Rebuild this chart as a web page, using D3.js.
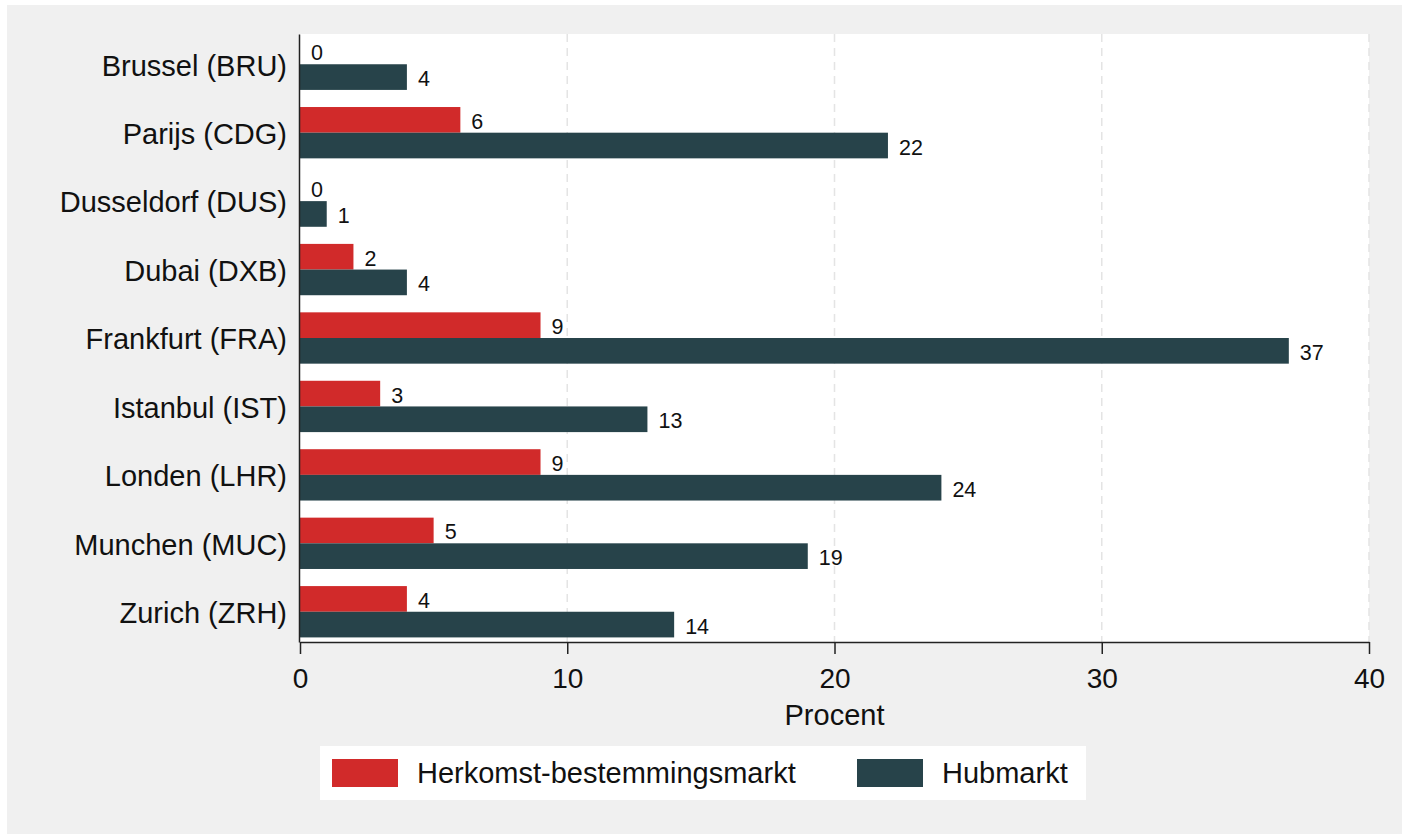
<!DOCTYPE html>
<html><head><meta charset="utf-8">
<script src="https://cdn.jsdelivr.net/npm/d3@7"></script>
<style>body{margin:0;background:#fff}svg{display:block}text{font-family:"Liberation Sans",Arial,sans-serif}</style>
</head><body>
<svg id="c" width="1402" height="834"></svg>
<script>
const categories = ["Brussel (BRU)","Parijs (CDG)","Dusseldorf (DUS)","Dubai (DXB)","Frankfurt (FRA)","Istanbul (IST)","Londen (LHR)","Munchen (MUC)","Zurich (ZRH)"];
const herkomst = [0,6,0,2,9,3,9,5,4];
const hub = [4,22,1,4,37,13,24,19,14];
const seriesNames = ["Herkomst-bestemmingsmarkt","Hubmarkt"];
const xTicks = [0,10,20,30,40];
const colors = ["#d12a2a","#27434a"];

const svg = d3.select("#c");
svg.append("rect").attr("x",7).attr("y",5).attr("width",1395).attr("height",829).attr("fill","#f0f0f0");
const L=300,R=1369,T=34,B=642;
svg.append("rect").attr("x",L).attr("y",T).attr("width",R-L).attr("height",B-T).attr("fill","#fff");
const x = d3.scaleLinear().domain([0,40]).range([L,R]);
const y = d3.scaleBand().domain(categories).range([T,B]).paddingInner(0.25).paddingOuter(0.067);
const sub = d3.scaleBand().domain([0,1]).range([0,y.bandwidth()]);

// gridlines
svg.append("g").selectAll("line").data(xTicks.filter(d=>d>0)).join("line")
 .attr("x1",d=>x(d)).attr("x2",d=>x(d)).attr("y1",T).attr("y2",B)
 .attr("stroke","#e4e4e4").attr("stroke-width",1.5).attr("stroke-dasharray","8,6");

const data = [];
categories.forEach((c,i)=>{data.push({c,s:0,v:herkomst[i]});data.push({c,s:1,v:hub[i]});});
svg.append("g").selectAll("rect").data(data).join("rect")
 .attr("x",x(0)).attr("y",d=>y(d.c)+sub(d.s)).attr("height",sub.bandwidth())
 .attr("width",d=>x(d.v)-x(0)).attr("fill",d=>colors[d.s]);
svg.append("g").selectAll("text").data(data).join("text")
 .attr("x",d=>x(d.v)+11).attr("y",d=>y(d.c)+sub(d.s)+sub.bandwidth()/2+9)
 .attr("font-size",21.5).attr("fill","#111").text(d=>d.v);

// axes
const xa = svg.append("g").attr("transform",`translate(0,${B})`)
 .call(d3.axisBottom(x).tickValues(xTicks).tickSize(12).tickPadding(14).tickSizeOuter(0));
xa.select(".domain").attr("stroke","#222").attr("stroke-width",1.5);
xa.selectAll(".tick line").attr("stroke","#222").attr("stroke-width",1.5);
xa.selectAll(".tick text").attr("font-size",28).attr("fill","#111").attr("font-family","Liberation Sans, Arial, sans-serif");
const ya = svg.append("g").attr("transform",`translate(${L-1},2)`)
 .call(d3.axisLeft(y).tickSize(0).tickPadding(12).tickSizeOuter(0));
ya.select(".domain").attr("stroke","#222").attr("stroke-width",1.5).attr("transform","translate(0,-2)");
ya.selectAll(".tick text").attr("font-size",29).attr("fill","#111").attr("font-family","Liberation Sans, Arial, sans-serif");

svg.append("text").attr("x",(L+R)/2).attr("y",725).attr("text-anchor","middle").attr("font-size",29).attr("fill","#111").text("Procent");

// legend
svg.append("rect").attr("x",320).attr("y",746).attr("width",766).attr("height",54).attr("fill","#fff");
const lx=[332,857];
seriesNames.forEach((n,i)=>{
 svg.append("rect").attr("x",lx[i]).attr("y",759).attr("width",66).attr("height",28).attr("fill",colors[i]);
 svg.append("text").attr("x",lx[i]+85).attr("y",783).attr("font-size",29).attr("fill","#111").text(n);
});
</script>
</body></html>
